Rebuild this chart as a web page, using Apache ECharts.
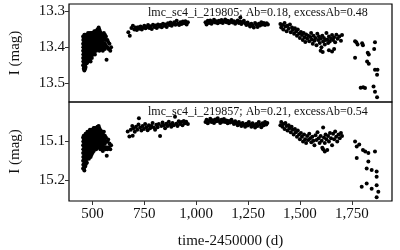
<!DOCTYPE html>
<html><head><meta charset="utf-8">
<script src="https://cdn.jsdelivr.net/npm/echarts@6/dist/echarts.min.js"></script>
<style>html,body{margin:0;padding:0;background:#fff}#c{width:400px;height:250px}</style>
</head><body><div id="c"></div>
<script>
var xTicks = [500, 750, 1000, 1250, 1500, 1750];
var topTicks = [13.3, 13.4, 13.5];
var botTicks = [15.1, 15.2];
var topLabel = 'lmc_sc4_i_219805; Ab=0.18, excessAb=0.48';
var botLabel = 'lmc_sc4_i_219857; Ab=0.21, excessAb=0.54';

var topSeason1 = [[455,13.37],[455,13.39],[455,13.41],[455,13.43],[455,13.45],
[458,13.38],[458,13.40],[458,13.42],[458,13.44],[458,13.46],
[461,13.365],[461,13.385],[461,13.405],[461,13.425],[461,13.445],[461,13.465],
[464,13.37],[464,13.39],[464,13.41],[464,13.43],[464,13.45],
[467,13.375],[467,13.395],[467,13.415],[467,13.435],[467,13.455],
[470,13.37],[470,13.38],[470,13.40],[470,13.42],[470,13.44],
[473,13.365],[473,13.385],[473,13.405],[473,13.425],[473,13.445],
[476,13.37],[476,13.39],[476,13.41],[476,13.43],
[479,13.36],[479,13.38],[479,13.40],[479,13.42],[479,13.44],
[482,13.365],[482,13.385],[482,13.405],[482,13.425],
[485,13.37],[485,13.39],[485,13.41],[485,13.43],
[488,13.36],[488,13.38],[488,13.40],[488,13.42],
[491,13.365],[491,13.385],[491,13.405],[491,13.425],[491,13.44],
[494,13.36],[494,13.375],[494,13.395],[494,13.415],
[497,13.37],[497,13.39],[497,13.41],[497,13.43],
[500,13.36],[500,13.38],[500,13.40],[500,13.42],
[503,13.365],[503,13.385],[503,13.405],
[506,13.36],[506,13.375],[506,13.395],[506,13.415],
[509,13.355],[509,13.37],[509,13.39],[509,13.41],
[512,13.36],[512,13.38],[512,13.40],[512,13.42],
[515,13.355],[515,13.375],[515,13.395],
[518,13.36],[518,13.38],[518,13.40],[518,13.41],
[521,13.355],[521,13.37],[521,13.39],
[524,13.35],[524,13.365],[524,13.385],[524,13.40],
[527,13.35],[527,13.37],[527,13.39],[527,13.405],
[530,13.345],[530,13.36],[530,13.38],
[533,13.35],[533,13.37],[533,13.39],[533,13.41],
[536,13.355],[536,13.375],[536,13.395],
[540,13.36],[540,13.38],[540,13.40],
[545,13.365],[545,13.385],[545,13.405],
[550,13.37],[550,13.39],[550,13.41],
[555,13.36],[555,13.38],[555,13.40],
[560,13.365],[560,13.39],[560,13.405],
[565,13.37],[565,13.395],[568,13.435],
[572,13.38],[572,13.40],
[576,13.385],[578,13.405],[582,13.39],[586,13.41],[590,13.40],
[456,13.38],[456,13.40],[456,13.42],[456,13.44],
[459,13.375],[459,13.395],[459,13.415],[459,13.435],[459,13.455],
[462,13.38],[462,13.40],[462,13.42],[462,13.44],
[465,13.365],[465,13.38],[465,13.40],[465,13.42],[465,13.44],[465,13.46],
[468,13.385],[468,13.405],[468,13.425],[468,13.445],
[471,13.375],[471,13.39],[471,13.41],[471,13.43],
[474,13.375],[474,13.395],[474,13.415],[474,13.435],
[477,13.38],[477,13.40],[477,13.42],[477,13.44],
[480,13.37],[480,13.39],[480,13.41],[480,13.43],
[483,13.375],[483,13.395],[483,13.415],[483,13.435],
[486,13.38],[486,13.40],[486,13.42],
[489,13.37],[489,13.39],[489,13.41],[489,13.43],
[492,13.375],[492,13.395],[492,13.415],
[495,13.365],[495,13.385],[495,13.405],[495,13.425],
[498,13.38],[498,13.40],[498,13.42],
[501,13.37],[501,13.39],[501,13.41],
[504,13.375],[504,13.395],[504,13.415],
[507,13.365],[507,13.385],[507,13.405],
[510,13.36],[510,13.38],[510,13.40],
[513,13.37],[513,13.39],[513,13.41],
[516,13.365],[516,13.385],[516,13.405],
[519,13.37],[519,13.39],
[522,13.36],[522,13.38],[522,13.40],
[525,13.375],[525,13.395],
[528,13.36],[528,13.38],[528,13.395],
[531,13.355],[531,13.37],[531,13.39],
[534,13.36],[534,13.38],[534,13.40],
[538,13.365],[538,13.385],[538,13.405],
[543,13.37],[543,13.395],
[548,13.38],[548,13.40],
[553,13.37],[553,13.39],
[558,13.375],[558,13.395],
[563,13.38],[563,13.40]];

var topSeason2 = [[673,13.358],[680,13.368],[688,13.346],[695,13.340],[702,13.350],[708,13.345],[714,13.352],[720,13.344],[726,13.348],[732,13.342],[738,13.350],[744,13.345],[750,13.340],[756,13.347],[762,13.343],[768,13.338],[774,13.346],[780,13.341],[786,13.349],[792,13.337],[798,13.343],[804,13.339],[810,13.346],[816,13.336],[822,13.342],[828,13.338],[834,13.344],[840,13.334],[846,13.340],[852,13.336],[858,13.343],[864,13.333],[870,13.338],[876,13.331],[882,13.340],[888,13.335],[894,13.330],[900,13.337],[906,13.326],[912,13.334],[918,13.338],[924,13.330],[930,13.335],[936,13.328],[942,13.333],[948,13.327],[954,13.336],[960,13.330],
[1045,13.330],[1050,13.336],[1056,13.326],[1062,13.332],[1068,13.325],[1074,13.334],[1080,13.329],[1086,13.323],[1092,13.331],[1098,13.327],[1104,13.333],[1110,13.326],[1116,13.330],[1122,13.324],[1128,13.332],[1134,13.328],[1140,13.322],[1146,13.330],[1152,13.326],[1158,13.333],[1164,13.328],[1170,13.324],[1176,13.331],[1182,13.327],[1188,13.334],[1194,13.329],[1200,13.325],[1206,13.332],[1212,13.328],[1213,13.317],[1218,13.335],[1224,13.330],[1230,13.326],[1236,13.333],[1242,13.338],[1248,13.331],[1254,13.336],[1260,13.342],[1266,13.334],[1272,13.339],[1278,13.345],[1284,13.332],[1290,13.337],[1296,13.343],[1302,13.334],[1308,13.339],[1314,13.330],[1320,13.336],[1326,13.332],[1332,13.338],[1340,13.333],[1346,13.336]];

var topSeason3 = [[1406,13.335],[1410,13.345],[1415,13.338],[1420,13.350],[1426,13.332],[1430,13.342],[1436,13.355],[1440,13.340],[1446,13.348],[1452,13.336],[1456,13.358],[1462,13.345],[1466,13.352],[1472,13.362],[1476,13.347],[1482,13.356],[1486,13.368],[1490,13.350],[1496,13.362],[1500,13.374],[1505,13.357],[1510,13.366],[1514,13.380],[1518,13.360],[1522,13.372],[1526,13.385],[1530,13.364],[1535,13.376],[1540,13.368],[1545,13.383],[1550,13.371],[1554,13.360],[1558,13.378],[1562,13.390],[1566,13.368],[1570,13.382],[1575,13.374],[1580,13.394],[1584,13.362],[1588,13.380],[1592,13.370],[1596,13.388],[1600,13.376],[1604,13.400],[1608,13.368],[1612,13.384],[1616,13.374],[1620,13.392],[1624,13.380],[1628,13.360],[1632,13.378],[1636,13.388],[1640,13.370],[1644,13.384],[1650,13.376],[1655,13.366],[1660,13.380],[1665,13.372],[1670,13.386],[1676,13.365],[1682,13.376],[1690,13.370],[1698,13.382],[1703,13.366],
[1600,13.410],[1610,13.413],[1640,13.408],[1655,13.412],[1665,13.405]];

var topSeason4 = [[1766,13.383],[1772,13.386],[1778,13.392],[1804,13.394],[1800,13.389],[1827,13.415],[1832,13.420],[1766,13.429],[1824,13.440],[1832,13.446],[1862,13.463],[1874,13.463],[1872,13.477],[1862,13.386],[1858,13.405],[1793,13.513],[1805,13.512],[1814,13.514],[1855,13.510],[1862,13.524],[1872,13.540]];

var botSeason1 = [[455,15.09],[455,15.11],[455,15.13],[455,15.15],[455,15.17],
[458,15.085],[458,15.10],[458,15.12],[458,15.14],[458,15.16],
[461,15.09],[461,15.105],[461,15.125],[461,15.145],[461,15.165],[461,15.175],
[464,15.095],[464,15.115],[464,15.135],[464,15.155],
[467,15.08],[467,15.10],[467,15.12],[467,15.14],[467,15.16],
[470,15.085],[470,15.105],[470,15.125],[470,15.145],
[473,15.08],[473,15.095],[473,15.115],[473,15.135],[473,15.155],
[476,15.075],[476,15.09],[476,15.11],[476,15.13],
[479,15.08],[479,15.10],[479,15.12],[479,15.14],
[482,15.075],[482,15.095],[482,15.115],[482,15.135],
[485,15.08],[485,15.10],[485,15.12],
[488,15.07],[488,15.09],[488,15.11],[488,15.13],
[491,15.075],[491,15.095],[491,15.115],[491,15.14],
[494,15.07],[494,15.085],[494,15.105],[494,15.125],
[497,15.075],[497,15.095],[497,15.115],
[500,15.07],[500,15.09],[500,15.11],[500,15.13],
[503,15.075],[503,15.095],[503,15.115],
[506,15.065],[506,15.085],[506,15.105],[506,15.125],
[509,15.07],[509,15.09],[509,15.11],
[512,15.065],[512,15.08],[512,15.10],[512,15.12],
[515,15.07],[515,15.09],[515,15.105],
[518,15.065],[518,15.085],[518,15.10],[518,15.12],
[521,15.07],[521,15.09],[521,15.11],
[524,15.062],[524,15.08],[524,15.095],
[527,15.065],[527,15.085],[527,15.10],[527,15.115],
[530,15.06],[530,15.075],[530,15.095],
[533,15.065],[533,15.085],[533,15.105],
[536,15.07],[536,15.09],[536,15.11],
[540,15.072],[540,15.095],[540,15.115],
[545,15.075],[545,15.095],[545,15.12],
[550,15.08],[550,15.10],[550,15.125],
[555,15.075],[555,15.095],[555,15.115],
[560,15.085],[560,15.105],
[565,15.09],[565,15.115],[569,15.137],
[572,15.10],[572,15.12],
[576,15.095],[578,15.115],[582,15.105],[586,15.12],[590,15.11],
[456,15.10],[456,15.12],[456,15.14],[456,15.16],
[459,15.095],[459,15.11],[459,15.13],[459,15.15],[459,15.17],
[462,15.10],[462,15.115],[462,15.135],[462,15.155],
[465,15.09],[465,15.105],[465,15.125],[465,15.145],[465,15.165],
[468,15.09],[468,15.11],[468,15.13],[468,15.15],
[471,15.095],[471,15.115],[471,15.135],[471,15.155],
[474,15.085],[474,15.105],[474,15.125],[474,15.145],
[477,15.08],[477,15.10],[477,15.12],[477,15.14],
[480,15.09],[480,15.11],[480,15.13],
[483,15.085],[483,15.105],[483,15.125],[483,15.145],
[486,15.09],[486,15.11],[486,15.13],
[489,15.08],[489,15.10],[489,15.12],
[492,15.085],[492,15.105],[492,15.125],
[495,15.08],[495,15.095],[495,15.115],[495,15.135],
[498,15.085],[498,15.105],[498,15.125],
[501,15.08],[501,15.10],[501,15.12],
[504,15.085],[504,15.105],[504,15.125],
[507,15.075],[507,15.095],[507,15.115],
[510,15.08],[510,15.10],[510,15.12],
[513,15.075],[513,15.09],[513,15.11],
[516,15.08],[516,15.10],[516,15.115],
[519,15.075],[519,15.095],[519,15.11],
[522,15.08],[522,15.10],
[525,15.07],[525,15.09],[525,15.105],
[528,15.075],[528,15.095],[528,15.11],
[531,15.068],[531,15.085],[531,15.105],
[534,15.075],[534,15.095],[534,15.115],
[538,15.08],[538,15.10],[538,15.12],
[543,15.085],[543,15.105],
[548,15.09],[548,15.11],
[553,15.085],[553,15.105],
[558,15.095],[558,15.115],
[563,15.10],[563,15.12]];

var botSeason2 = [[670,15.074],[678,15.087],[685,15.070],[692,15.060],[694,15.085],[698,15.066],[704,15.075],[710,15.062],[716,15.070],[722,15.056],[724,15.040],[730,15.064],[736,15.072],[742,15.060],[748,15.068],[754,15.055],[760,15.063],[766,15.071],[772,15.058],[778,15.066],[784,15.060],[790,15.052],[796,15.064],[802,15.070],[808,15.057],[814,15.063],[820,15.055],[826,15.086],[832,15.060],[838,15.051],[844,15.058],[850,15.066],[856,15.054],[862,15.060],[868,15.049],[874,15.056],[880,15.062],[886,15.052],[892,15.058],[898,15.036],[904,15.054],[910,15.060],[916,15.048],[922,15.055],[928,15.050],[934,15.058],[940,15.047],[946,15.053],[952,15.049],[960,15.055],
[1045,15.050],[1050,15.044],[1056,15.053],[1062,15.047],[1068,15.041],[1074,15.050],[1080,15.045],[1086,15.052],[1092,15.043],[1098,15.048],[1104,15.040],[1110,15.047],[1116,15.052],[1122,15.044],[1128,15.049],[1134,15.042],[1140,15.050],[1146,15.046],[1152,15.053],[1158,15.047],[1164,15.051],[1170,15.044],[1176,15.050],[1182,15.055],[1188,15.048],[1194,15.053],[1200,15.058],[1206,15.050],[1212,15.055],[1218,15.060],[1224,15.052],[1230,15.057],[1236,15.062],[1242,15.054],[1248,15.059],[1254,15.050],[1260,15.056],[1266,15.062],[1272,15.053],[1278,15.058],[1284,15.064],[1290,15.055],[1296,15.060],[1302,15.050],[1308,15.057],[1314,15.063],[1320,15.053],[1326,15.058],[1332,15.050],[1338,15.056],[1343,15.052]];

var botSeason3 = [[1406,15.058],[1410,15.050],[1416,15.062],[1420,15.055],[1426,15.068],[1430,15.052],[1436,15.060],[1440,15.072],[1446,15.058],[1450,15.066],[1456,15.076],[1460,15.062],[1466,15.070],[1470,15.082],[1476,15.068],[1480,15.076],[1486,15.088],[1490,15.072],[1496,15.082],[1500,15.094],[1505,15.078],[1510,15.088],[1515,15.100],[1520,15.082],[1525,15.094],[1530,15.104],[1535,15.086],[1540,15.096],[1545,15.080],[1550,15.092],[1555,15.102],[1560,15.088],[1565,15.098],[1570,15.110],[1575,15.084],[1580,15.096],[1585,15.076],[1590,15.092],[1595,15.104],[1600,15.086],[1605,15.098],[1608,15.116],[1612,15.064],[1612,15.120],[1616,15.090],[1620,15.104],[1620,15.126],[1624,15.082],[1628,15.094],[1632,15.122],[1636,15.086],[1640,15.100],[1645,15.078],[1650,15.092],[1655,15.110],[1660,15.080],[1665,15.094],[1670,15.074],[1675,15.088],[1680,15.100],[1686,15.082],[1692,15.092],[1698,15.078],[1703,15.086]];

var botSeason4 = [[1766,15.100],[1774,15.113],[1786,15.108],[1804,15.122],[1815,15.126],[1830,15.130],[1862,15.126],[1774,15.143],[1830,15.152],[1822,15.170],[1846,15.174],[1870,15.178],[1870,15.191],[1798,15.217],[1822,15.209],[1846,15.222],[1870,15.213],[1878,15.230],[1870,15.244]];

var serif = 'Liberation Serif';
var chart = echarts.init(document.getElementById('c'), null, {renderer: 'canvas'});
function yAx(idx, min, max, ticks) {
  return {
    gridIndex: idx, type: 'value', inverse: true, min: min, max: max,
    axisLine: {show: false},
    splitLine: {show: false},
    axisTick: {show: true, length: 4, customValues: ticks, lineStyle: {color: '#333', width: 1}},
    axisLabel: {customValues: ticks, formatter: function (v) { return v.toFixed(1); },
      fontFamily: serif, fontSize: 15, color: '#111', margin: 4},
    name: 'I (mag)', nameLocation: 'middle', nameRotate: 90, nameGap: 46,
    nameTextStyle: {fontFamily: serif, fontSize: 15, color: '#111'}
  };
}
function sc(x, y, d) {
  return {type: 'scatter', xAxisIndex: x, yAxisIndex: y, data: d, symbol: 'circle', symbolSize: 4,
    itemStyle: {color: '#000', opacity: 1, borderWidth: 0}, silent: true, animation: false};
}
chart.setOption({
  animation: false,
  backgroundColor: '#fff',
  title: [
    {text: topLabel, left: 148, top: 7, padding: 0, textStyle: {fontFamily: serif, fontSize: 12, fontWeight: 'normal', color: '#111'}},
    {text: botLabel, left: 148, top: 106, padding: 0, textStyle: {fontFamily: serif, fontSize: 12, fontWeight: 'normal', color: '#111'}}
  ],
  grid: [
    {left: 68, top: 4, width: 324, height: 98, show: true, borderColor: '#000', borderWidth: 1.2, backgroundColor: 'transparent'},
    {left: 68, top: 102, width: 324, height: 99, show: true, borderColor: '#000', borderWidth: 1.2, backgroundColor: 'transparent'}
  ],
  xAxis: [
    {gridIndex: 0, type: 'value', min: 387, max: 1944, axisLine: {show: false}, axisTick: {show: false}, axisLabel: {show: false}, splitLine: {show: false}},
    {gridIndex: 1, type: 'value', min: 387, max: 1944, axisLine: {show: false}, splitLine: {show: false},
      axisTick: {show: true, length: 4, customValues: xTicks, lineStyle: {color: '#333', width: 1}},
      axisLabel: {customValues: xTicks, formatter: function (v) { return v.toLocaleString('en-US'); },
        fontFamily: serif, fontSize: 15, color: '#111', margin: 6},
      name: 'time-2450000 (d)', nameLocation: 'middle', nameGap: 33,
      nameTextStyle: {fontFamily: serif, fontSize: 15, color: '#111'}}
  ],
  yAxis: [yAx(0, 13.279, 13.553, topTicks), yAx(1, 14.998, 15.254, botTicks)],
  series: [
    sc(0, 0, topSeason1), sc(0, 0, topSeason2), sc(0, 0, topSeason3), sc(0, 0, topSeason4),
    sc(1, 1, botSeason1), sc(1, 1, botSeason2), sc(1, 1, botSeason3), sc(1, 1, botSeason4)
  ]
});
</script></body></html>
